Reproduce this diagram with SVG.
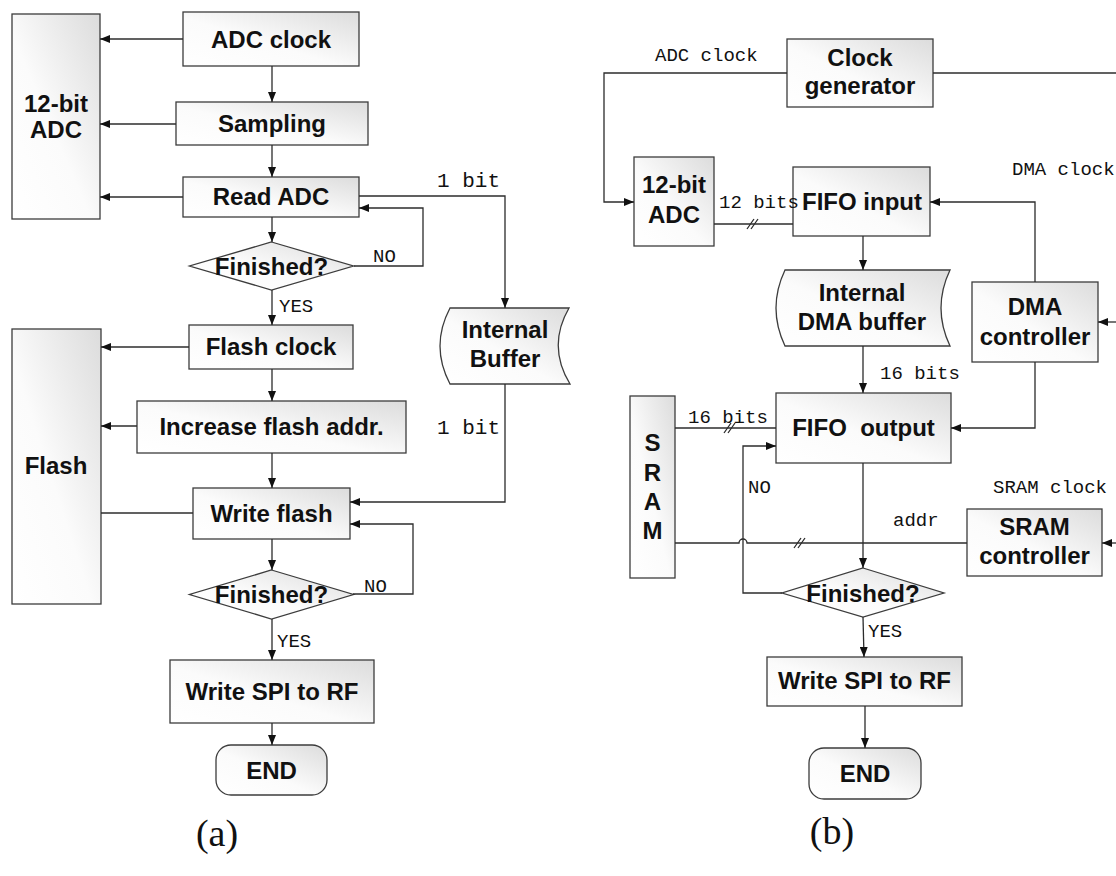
<svg xmlns="http://www.w3.org/2000/svg" width="1116" height="876" viewBox="0 0 1116 876">
  <defs>
    <linearGradient id="shade" x1="0" y1="1" x2="1" y2="0">
      <stop offset="0" stop-color="#ffffff"/>
      <stop offset="0.45" stop-color="#fbfbfb"/>
      <stop offset="1" stop-color="#dcdcdc"/>
    </linearGradient>
    <marker id="arr" markerWidth="10" markerHeight="8" refX="10" refY="4" orient="auto" markerUnits="userSpaceOnUse">
      <path d="M0,0 L10,4 L0,8 Z" fill="#111"/>
    </marker>
    <style>
      .box { fill: url(#shade); stroke: #3c3c3c; stroke-width: 1.3; }
      .lbl { font-family: "Liberation Sans", Arial, sans-serif; font-weight: bold; font-size: 24px; text-anchor: middle; fill: #111; }
      .mono { font-family: "Liberation Mono", "Courier New", monospace; font-size: 19px; fill: #111; }
      .big { font-family: "Liberation Mono", monospace; font-size: 21px; fill: #111; }
      .cap { font-family: "Liberation Serif", "Times New Roman", serif; font-size: 38px; text-anchor: middle; fill: #111; }
      .wire { fill: none; stroke: #2c2c2c; stroke-width: 1.3; }
      .arrow { marker-end: url(#arr); }
    </style>
  </defs>
  <rect width="1116" height="876" fill="#ffffff"/>

  <!-- ============ (a) flash-based flow ============ -->
  <g id="a-adc">
    <rect class="box" x="12" y="14" width="88" height="205"/>
    <text class="lbl" x="56" y="112">12-bit</text>
    <text class="lbl" x="56" y="138">ADC</text>
  </g>
  <g id="a-adc-clock">
    <rect class="box" x="183" y="12" width="176" height="54"/>
    <text class="lbl" x="271" y="47.5">ADC clock</text>
  </g>
  <g id="a-sampling">
    <rect class="box" x="176" y="102" width="192" height="43"/>
    <text class="lbl" x="272" y="132">Sampling</text>
  </g>
  <g id="a-read-adc">
    <rect class="box" x="183" y="177" width="176" height="40"/>
    <text class="lbl" x="271" y="205">Read ADC</text>
  </g>
  <g id="a-finished-1">
    <polygon class="box" points="271.5,242 353.5,266 271.5,290 189.5,266"/>
    <text class="lbl" x="271.5" y="274.5">Finished?</text>
  </g>
  <g id="a-internal-buffer">
    <path class="box" d="M450,308 H569 Q547,346 570,384 H450 Q430,346 450,308 Z"/>
    <text class="lbl" x="505" y="338">Internal</text>
    <text class="lbl" x="505" y="367">Buffer</text>
  </g>
  <g id="a-flash">
    <rect class="box" x="12" y="329" width="89" height="275"/>
    <text class="lbl" x="56" y="474">Flash</text>
  </g>
  <g id="a-flash-clock">
    <rect class="box" x="189" y="325" width="164" height="44"/>
    <text class="lbl" x="271" y="355">Flash clock</text>
  </g>
  <g id="a-increase-addr">
    <rect class="box" x="137" y="401" width="269" height="52"/>
    <text class="lbl" x="271.5" y="435">Increase flash addr.</text>
  </g>
  <g id="a-write-flash">
    <rect class="box" x="193" y="488" width="157" height="51"/>
    <text class="lbl" x="271.5" y="522">Write flash</text>
  </g>
  <g id="a-finished-2">
    <polygon class="box" points="271.5,570 353.5,594.5 271.5,619 189.5,594.5"/>
    <text class="lbl" x="271.5" y="603">Finished?</text>
  </g>
  <g id="a-write-spi">
    <rect class="box" x="170" y="660" width="204" height="63"/>
    <text class="lbl" x="272" y="700">Write SPI to RF</text>
  </g>
  <g id="a-end">
    <rect class="box" x="216" y="745" width="111" height="50" rx="15" ry="15"/>
    <text class="lbl" x="271.5" y="778.5">END</text>
  </g>

  <g id="a-connectors">
    <path class="wire arrow" d="M183,39 H100"/>
    <path class="wire arrow" d="M176,124 H100"/>
    <path class="wire arrow" d="M183,197 H100"/>
    <path class="wire arrow" d="M272,66 V102"/>
    <path class="wire arrow" d="M272,145 V177"/>
    <path class="wire arrow" d="M272,217 V242"/>
    <path class="wire arrow" d="M354,266 H423 V208 H359"/>
    <path class="wire arrow" d="M359,196 H505 V308"/>
    <path class="wire arrow" d="M272,290 V325"/>
    <path class="wire arrow" d="M189,347 H101"/>
    <path class="wire arrow" d="M272,369 V401"/>
    <path class="wire arrow" d="M137,426 H101"/>
    <path class="wire arrow" d="M272,453 V488"/>
    <path class="wire" d="M193,513 H101"/>
    <path class="wire arrow" d="M505,384 V502 H350"/>
    <path class="wire arrow" d="M272,539 V570"/>
    <path class="wire arrow" d="M353,594 H413 V524 H350"/>
    <path class="wire arrow" d="M272,619 V660"/>
    <path class="wire arrow" d="M272,723 V745"/>
  </g>
  <g id="a-labels">
    <text class="big" x="437" y="187">1 bit</text>
    <text class="big" x="437" y="434">1 bit</text>
    <text class="mono" x="373" y="262">NO</text>
    <text class="mono" x="279" y="312">YES</text>
    <text class="mono" x="364" y="592">NO</text>
    <text class="mono" x="277" y="647">YES</text>
    <text class="cap" x="217" y="846">(a)</text>
  </g>

  <!-- ============ (b) SRAM / DMA flow ============ -->
  <g id="b-clock-gen">
    <rect class="box" x="787" y="39" width="146" height="68"/>
    <text class="lbl" x="860" y="66">Clock</text>
    <text class="lbl" x="860" y="94">generator</text>
  </g>
  <g id="b-adc">
    <rect class="box" x="634" y="157" width="80" height="89"/>
    <text class="lbl" x="674" y="193">12-bit</text>
    <text class="lbl" x="674" y="223">ADC</text>
  </g>
  <g id="b-fifo-in">
    <rect class="box" x="793" y="167" width="137" height="69"/>
    <text class="lbl" x="862" y="210">FIFO input</text>
  </g>
  <g id="b-dma-buffer">
    <path class="box" d="M785,270 H950 Q932,308 950,346 H785 Q767,308 785,270 Z"/>
    <text class="lbl" x="862" y="301">Internal</text>
    <text class="lbl" x="862" y="330">DMA buffer</text>
  </g>
  <g id="b-dma-ctrl">
    <rect class="box" x="972" y="282" width="126" height="80"/>
    <text class="lbl" x="1035" y="315">DMA</text>
    <text class="lbl" x="1035" y="345">controller</text>
  </g>
  <g id="b-sram">
    <rect class="box" x="630" y="396" width="45" height="182"/>
    <text class="lbl" x="652.5" y="451">S</text>
    <text class="lbl" x="652.5" y="481">R</text>
    <text class="lbl" x="652.5" y="510">A</text>
    <text class="lbl" x="652.5" y="539">M</text>
  </g>
  <g id="b-fifo-out">
    <rect class="box" x="776" y="393" width="175" height="70"/>
    <text class="lbl" x="863.5" y="436" xml:space="preserve">FIFO  output</text>
  </g>
  <g id="b-sram-ctrl">
    <rect class="box" x="967" y="509" width="135" height="67"/>
    <text class="lbl" x="1034.5" y="535">SRAM</text>
    <text class="lbl" x="1034.5" y="564">controller</text>
  </g>
  <g id="b-finished">
    <polygon class="box" points="863,568 944,593 863,617 782,593"/>
    <text class="lbl" x="863" y="601.5">Finished?</text>
  </g>
  <g id="b-write-spi">
    <rect class="box" x="767" y="657" width="195" height="49"/>
    <text class="lbl" x="864.5" y="689">Write SPI to RF</text>
  </g>
  <g id="b-end">
    <rect class="box" x="809" y="748" width="112" height="51" rx="15" ry="15"/>
    <text class="lbl" x="865" y="782">END</text>
  </g>

  <g id="b-connectors">
    <path class="wire arrow" d="M787,73 H604 V202 H634"/>
    <path class="wire" d="M933,73 H1116"/>
    <path class="wire" d="M714,224 H793"/>
    <path class="wire" d="M747,229 L754,219 M751,229 L758,219"/>
    <path class="wire arrow" d="M1035,282 V202 H930"/>
    <path class="wire arrow" d="M1116,322 H1098"/>
    <path class="wire arrow" d="M863,236 V270"/>
    <path class="wire arrow" d="M863,346 V393"/>
    <path class="wire arrow" d="M1035,362 V428 H951"/>
    <path class="wire" d="M675,428 H776"/>
    <path class="wire" d="M724,433 L731,423 M728,433 L735,423"/>
    <path class="wire arrow" d="M782,593 H743 V446 H776"/>
    <path class="wire" d="M675,543 H739 A4,4 0 0 1 747,543 H967"/>
    <path class="wire" d="M794,548 L801,538 M798,548 L805,538"/>
    <path class="wire arrow" d="M1116,543 H1102"/>
    <path class="wire arrow" d="M863,463 V568"/>
    <path class="wire arrow" d="M863,617 L864,657"/>
    <path class="wire arrow" d="M865,706 V748"/>
  </g>
  <g id="b-labels">
    <text class="mono" x="655" y="61">ADC clock</text>
    <text class="mono" x="719" y="208">12 bits</text>
    <text class="mono" x="1012" y="175">DMA clock</text>
    <text class="mono" x="880" y="379">16 bits</text>
    <text class="mono" x="688" y="423">16 bits</text>
    <text class="mono" x="748" y="493">NO</text>
    <text class="mono" x="893" y="526">addr</text>
    <text class="mono" x="993" y="493">SRAM clock</text>
    <text class="mono" x="868" y="637">YES</text>
    <text class="cap" x="832" y="844">(b)</text>
  </g>
</svg>
